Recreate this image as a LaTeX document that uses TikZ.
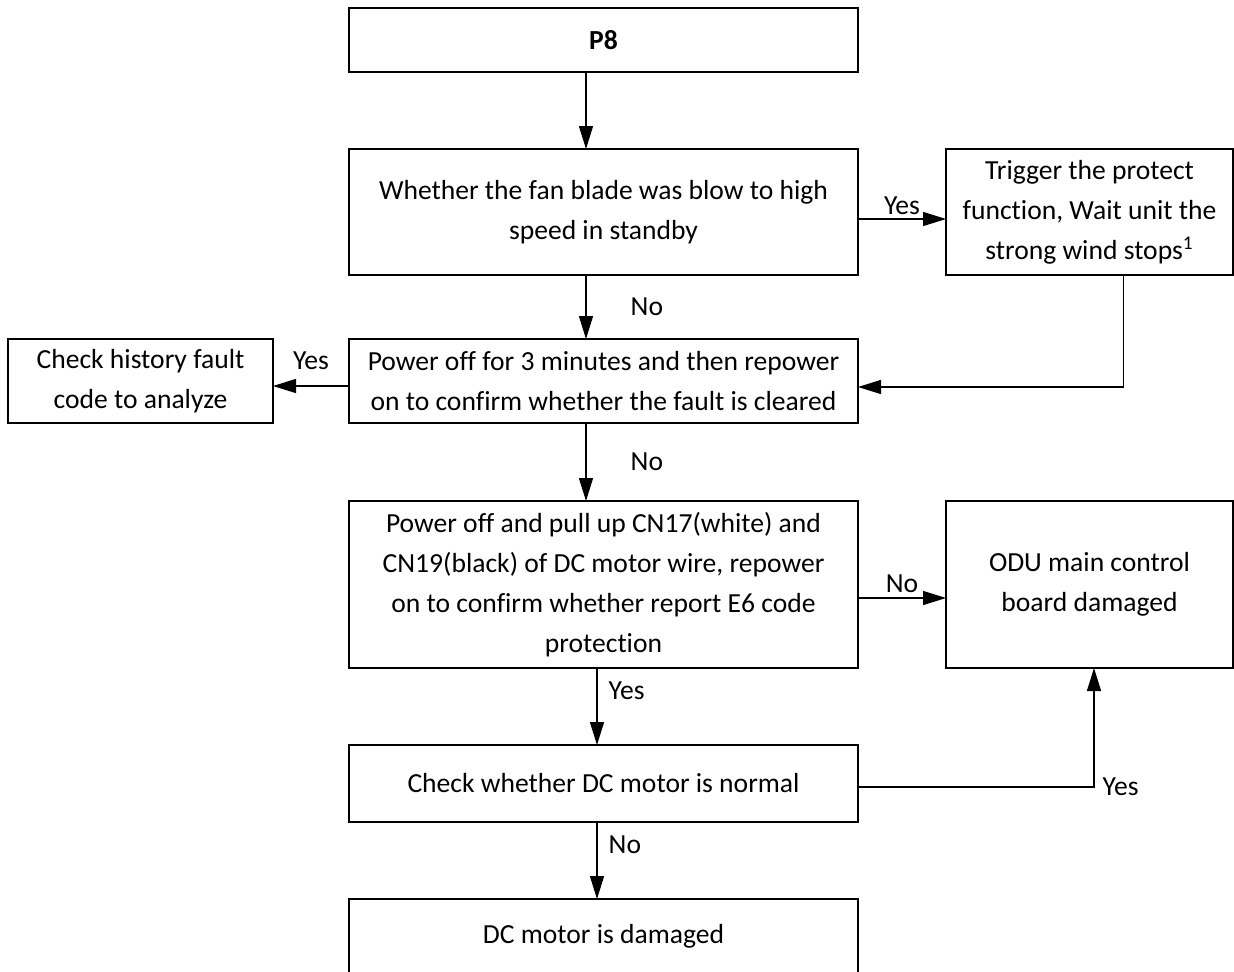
\documentclass[tikz,border=0pt]{standalone}
\usepackage{fontspec}
\setmainfont{Carlito}[Ligatures=NoCommon]
\usetikzlibrary{arrows.meta, positioning}

\begin{document}
\begin{tikzpicture}[
  font=\fontsize{15.7pt}{22.7pt}\selectfont,
  node distance=1.54cm,
  box/.style={rectangle, draw=black, line width=1.1pt, align=center,
              minimum width=10.18cm, inner sep=2pt, outer sep=0pt},
  side/.style={rectangle, draw=black, line width=1.1pt, align=center,
               minimum width=5.74cm, inner sep=2pt, outer sep=0pt},
  arr/.style={-{Triangle[length=0.46cm, width=0.28cm]}, line width=0.8pt},
  lbl/.style={inner sep=0pt},
]
  \clip (0,0) rectangle (24.68,-19.42);

  \node[box, minimum height=1.28cm] (p8) at (12.07,-0.8) {\textbf{P8}};
  \node[box, minimum height=2.52cm, below=of p8] (fan)
    {Whether the fan blade was blow to high\\speed in standby};
  \node[side, minimum height=2.52cm, right=1.76cm of fan] (trig)
    {Trigger the protect\\function, Wait unit the\\strong wind stops\textsuperscript{1}};
  \node[box, minimum height=1.68cm, below=1.28cm of fan] (pwr)
    {Power off for 3 minutes and then repower\\on to confirm whether the fault is cleared};
  \node[side, minimum width=5.3cm, minimum height=1.68cm, left=1.52cm of pwr] (hist)
    {Check history fault\\code to analyze};
  \node[box, minimum height=3.34cm, below=1.56cm of pwr] (pull)
    {Power off and pull up CN17(white) and\\CN19(black) of DC motor wire, repower\\on to confirm whether report E6 code\\protection};
  \node[side, minimum height=3.34cm, right=1.76cm of pull] (odu)
    {ODU main control\\board damaged};
  \node[box, minimum height=1.54cm, below=of pull] (chk)
    {Check whether DC motor is normal};
  \node[box, minimum height=1.5cm, below=of chk] (dmg)
    {DC motor is damaged};

  \draw[arr] ([xshift=-0.35cm]p8.south) -- ([xshift=-0.35cm]fan.north);
  \draw[arr] ([xshift=-0.35cm]fan.south) -- node[lbl, right=0.88cm]{No} ([xshift=-0.35cm]pwr.north);
  \draw[arr] ([xshift=-0.35cm]pwr.south) -- node[lbl, right=0.88cm]{No} ([xshift=-0.35cm]pull.north);
  \draw[arr] ([xshift=-0.13cm]pull.south) -- node[lbl, pos=0.3, right=0.22cm]{Yes} ([xshift=-0.13cm]chk.north);
  \draw[arr] ([xshift=-0.13cm]chk.south) -- node[lbl, pos=0.3, right=0.22cm]{No} ([xshift=-0.13cm]dmg.north);

  \draw[arr] ([yshift=-0.14cm]fan.east) -- node[lbl, above=0.08cm]{Yes} ([yshift=-0.14cm]trig.west);
  \draw[arr] ([xshift=0.68cm]trig.south) |- ([yshift=-0.12cm]pwr.east);
  \draw[arr] ([yshift=-0.1cm]pwr.west) -- node[lbl, above=0.32cm]{Yes} ([yshift=-0.1cm]hist.east);
  \draw[arr] ([yshift=-0.27cm]pull.east) -- node[lbl, above=0.1cm]{No} ([yshift=-0.27cm]odu.west);
  \draw[arr] ([yshift=-0.07cm]chk.east) -| node[lbl, pos=0.5, anchor=west, xshift=0.16cm]{Yes} ([xshift=0.09cm]odu.south);
\end{tikzpicture}
\end{document}
